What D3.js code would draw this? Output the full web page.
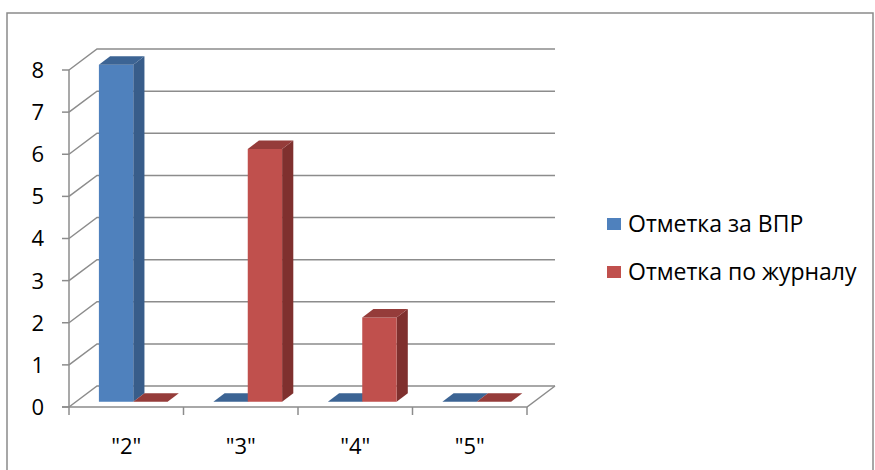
<!DOCTYPE html>
<html><head><meta charset="utf-8">
<script src="https://cdn.jsdelivr.net/npm/d3@7"></script>
<style>body{margin:0;background:#fff}svg{display:block}text{font-family:"Open Sans",sans-serif;fill:#000}</style>
</head><body>
<svg id="c" width="875" height="470"></svg>
<script>
const categories = ['"2"', '"3"', '"4"', '"5"'];
const seriesNames = ["Отметка за ВПР", "Отметка по журналу"];
const vprValues = [8, 0, 0, 0];
const journalValues = [0, 6, 2, 0];
const yTicks = [0, 1, 2, 3, 4, 5, 6, 7, 8];

const colors = {front: ["#4F81BD", "#C0504D"], side: ["#385D8A", "#7F302E"], top: ["#3C6494", "#953C3A"]};
const svg = d3.select("#c");

// outer frame
svg.append("rect").attr("x", 7).attr("y", 13).attr("width", 866).attr("height", 470)
  .attr("fill", "none").attr("stroke", "#8a8a8a").attr("stroke-width", 1.5);

const x = d3.scaleBand().domain(categories).range([69, 527]);
const y = d3.scaleLinear().domain([0, 8]).range([407, 70]);
const DX = 28, DY = -21;              // full depth offset
const f0 = 0.25, f1 = 0.65;           // bar depth fraction
const groupW = x.bandwidth() * 0.6;
const xs = d3.scaleBand().domain(seriesNames).range([(x.bandwidth() - groupW) / 2, (x.bandwidth() + groupW) / 2]);

const grid = svg.append("g").attr("stroke", "#8c8c8c").attr("stroke-width", 1.5).attr("fill", "none");
yTicks.forEach(t => {
  const yy = y(t);
  grid.append("path").attr("d", `M${69},${yy}L${69 + DX},${yy + DY}L${527 + DX},${yy + DY}`);
  grid.append("line").attr("x1", 62).attr("x2", 69).attr("y1", yy).attr("y2", yy);
});
// front axis + floor
grid.append("line").attr("x1", 69).attr("x2", 69).attr("y1", y(8)).attr("y2", y(0));
grid.append("path").attr("d", `M62,${y(0)}L527,${y(0)}L${527 + DX},${y(0) + DY}`);
categories.concat(["end"]).forEach((c, i) => {
  const xx = c === "end" ? 527 : x(c);
  grid.append("line").attr("x1", xx).attr("x2", xx).attr("y1", y(0)).attr("y2", y(0) + 8);
});

// bars
const data = [];
categories.forEach((c, i) => {
  data.push({c, s: 0, v: vprValues[i]});
  data.push({c, s: 1, v: journalValues[i]});
});
const bars = svg.append("g");
const bx0 = DX * f0, by0 = DY * f0, bdx = DX * (f1 - f0), bdy = DY * (f1 - f0);
data.forEach(d => {
  const left = x(d.c) + xs(seriesNames[d.s]) + bx0;
  const right = left + xs.bandwidth();
  const bot = y(0) + by0;
  const top = y(d.v) + by0;
  const g = bars.append("g");
  if (d.v > 0) {
    g.append("path").attr("fill", colors.side[d.s])
      .attr("d", `M${right},${bot}L${right + bdx},${bot + bdy}L${right + bdx},${top + bdy}L${right},${top}Z`);
    g.append("rect").attr("fill", colors.front[d.s]).attr("x", left).attr("y", top).attr("width", right - left).attr("height", bot - top);
  }
  g.append("path").attr("fill", colors.top[d.s])
    .attr("d", `M${left},${top}L${right},${top}L${right + bdx},${top + bdy}L${left + bdx},${top + bdy}Z`);
});

// y labels
svg.append("g").selectAll("text").data(yTicks).join("text")
  .attr("x", 44).attr("y", d => y(d)).attr("dy", "0.36em").attr("text-anchor", "end")
  .attr("font-size", 22).text(d => d);
// category labels
svg.append("g").selectAll("text").data(categories).join("text")
  .attr("x", d => x(d) + x.bandwidth() / 2).attr("y", 454).attr("text-anchor", "middle")
  .attr("font-size", 22).text(d => d);

// legend
const lg = svg.append("g");
seriesNames.forEach((s, i) => {
  const cy = 224 + i * 48;
  lg.append("rect").attr("x", 607).attr("y", cy - 6).attr("width", 14).attr("height", 12).attr("fill", colors.front[i]);
  lg.append("text").attr("x", 628).attr("y", cy).attr("dy", "0.36em").attr("font-size", 23).text(s);
});
</script>
</body></html>
